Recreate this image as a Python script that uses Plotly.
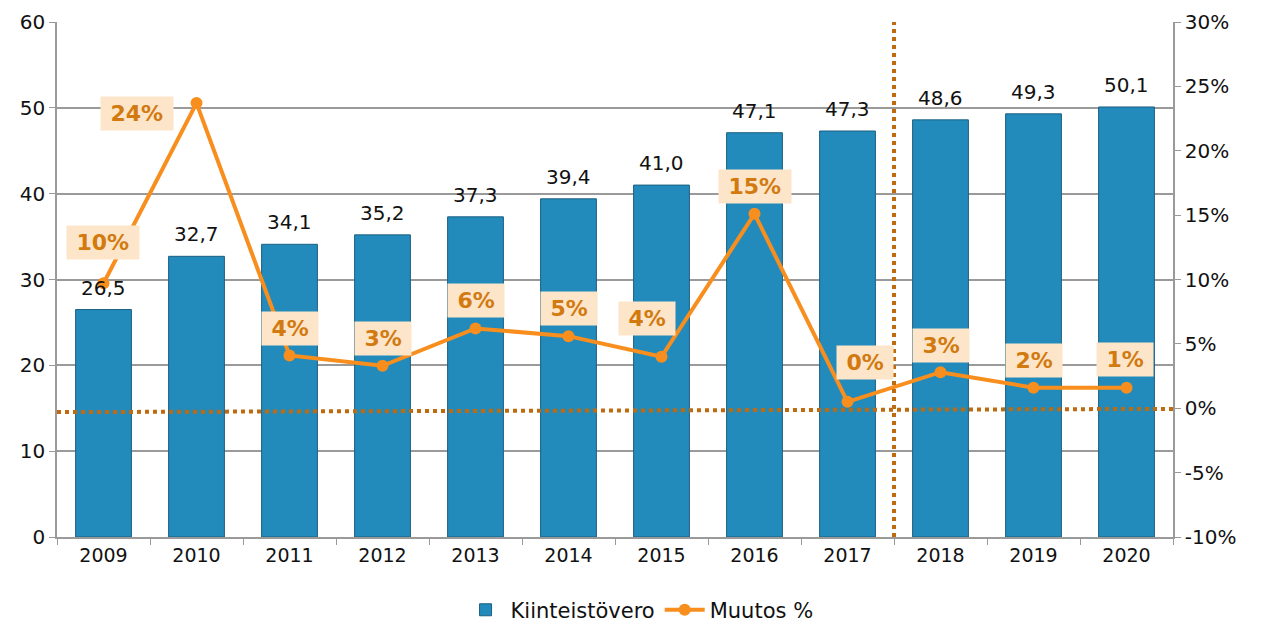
import plotly.graph_objects as go

years = ["2009", "2010", "2011", "2012", "2013", "2014", "2015", "2016", "2017", "2018", "2019", "2020"]
kiinteistovero = [26.5, 32.7, 34.1, 35.2, 37.3, 39.4, 41.0, 47.1, 47.3, 48.6, 49.3, 50.1]
muutos_pct = [9.7, 23.7, 4.1, 3.3, 6.2, 5.6, 4.0, 15.1, 0.5, 2.8, 1.6, 1.6]
muutos_labels = ["10%", "24%", "4%", "3%", "6%", "5%", "4%", "15%", "0%", "3%", "2%", "1%"]
right_tickvals = [-10, -5, 0, 5, 10, 15, 20, 25, 30]
right_ticktext = ["-10%", "-5%", "0%", "5%", "10%", "15%", "20%", "25%", "30%"]

# label offsets (pixels) relative to the line points
label_dx = [-1, -60, 0, 0, 0, 0, -15, 0, 17, 0, 0, -2]
label_dy = [41, -10, 27, 27, 28, 28, 38, 27, 39, 27, 27, 28]

FONT = "DejaVu Sans"
BAR_COLOR = "#228BBB"
LINE_COLOR = "#F78E1E"
DOT_COLOR = "#BF6A0E"
GRID = "#9a9a9a"

xs = list(range(len(years)))
boundaries = [i - 0.5 for i in range(len(years) + 1)]

fig = go.Figure()
fig.add_trace(go.Bar(
    x=xs, y=kiinteistovero, name="Kiinteistövero",
    marker=dict(color=BAR_COLOR, line=dict(color="#1C5F80", width=1)),
))
fig.add_trace(go.Scatter(
    x=xs, y=muutos_pct, name="Muutos %", yaxis="y2",
    mode="lines+markers",
    line=dict(color=LINE_COLOR, width=4),
    marker=dict(color=LINE_COLOR, size=12),
))

annotations = []
for xi, v in zip(xs, kiinteistovero):
    annotations.append(dict(
        x=xi, y=v, xref="x", yref="y", text=f"{v:.1f}".replace(".", ","),
        showarrow=False, yanchor="middle", yshift=22,
        font=dict(family=FONT, size=20, color="#111111"),
    ))
for xi, v, t, dx, dy in zip(xs, muutos_pct, muutos_labels, label_dx, label_dy):
    ndig = len(t) - 1
    w = ndig * 15.3 + 22 + 17
    annotations.append(dict(
        x=xi, y=v, xref="x", yref="y2", text=t, showarrow=False,
        xshift=dx, yshift=dy, width=w, height=31,
        bgcolor="#FDE5C9",
        font=dict(family=FONT, size=22, color="#D27A10", weight="bold"),
    ))

shapes = [
    dict(type="line", xref="paper", yref="y2", x0=0, x1=1, y0=-0.3, y1=-0.05,
         line=dict(color=DOT_COLOR, width=4, dash="dot"), layer="above"),
    dict(type="line", xref="x", yref="paper", x0=8.5, x1=8.5, y0=0, y1=1,
         line=dict(color=DOT_COLOR, width=4, dash="dot"), layer="above"),
]

fig.update_layout(
    width=1260, height=618,
    margin=dict(l=49, r=95, t=14, b=89, autoexpand=False),
    paper_bgcolor="white", plot_bgcolor="white",
    separators=", ",
    font=dict(family=FONT, size=20, color="#111111"),
    bargap=0.4,
    showlegend=True,
    legend=dict(orientation="h", x=0.522, xanchor="center", y=-0.142, yanchor="middle",
                font=dict(family=FONT, size=21, color="#111111"), itemwidth=40,
                traceorder="normal"),
    xaxis=dict(range=[-0.5, len(years) - 0.5], showline=True, linecolor=GRID, linewidth=1.5,
               tickmode="array", tickvals=xs, ticktext=years, ticks="",
               minor=dict(tickmode="array", tickvals=boundaries, ticks="outside",
                          ticklen=6, tickcolor=GRID, showgrid=False),
               tickfont=dict(family=FONT, size=19, color="#111111"), showgrid=False,
               zeroline=False, automargin=False),
    yaxis=dict(range=[0, 60], dtick=10, showline=True, linecolor=GRID, linewidth=1.5,
               ticks="outside", ticklen=6, tickcolor=GRID, showgrid=True,
               gridcolor=GRID, gridwidth=1.5, zeroline=False, automargin=False,
               tickfont=dict(family=FONT, size=20, color="#111111")),
    yaxis2=dict(range=[-10, 30], overlaying="y", side="right",
                tickmode="array", tickvals=right_tickvals, ticktext=right_ticktext,
                showline=True, linecolor=GRID, linewidth=1.5, automargin=False,
                ticks="outside", ticklen=6, tickcolor=GRID, showgrid=False, zeroline=False,
                tickfont=dict(family=FONT, size=20, color="#111111")),
    annotations=annotations,
    shapes=shapes,
)

fig.write_html("out.html")
